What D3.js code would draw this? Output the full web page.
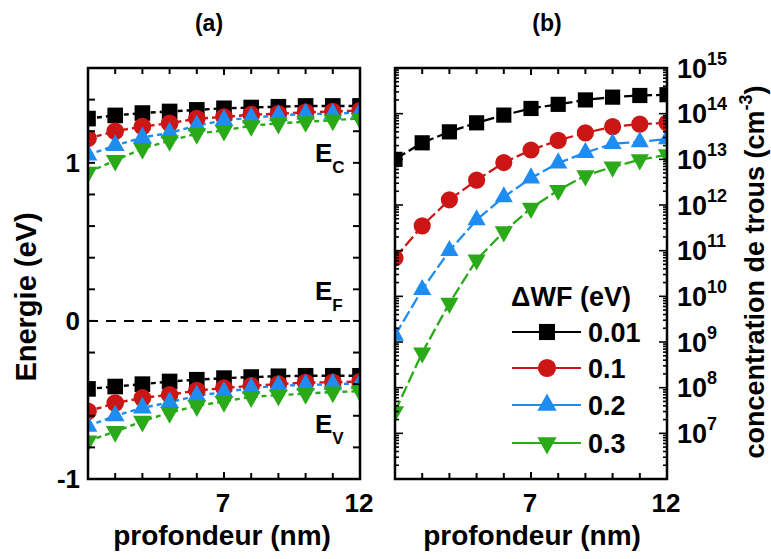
<!DOCTYPE html>
<html><head><meta charset="utf-8">
<script src="https://cdn.jsdelivr.net/npm/d3@7"></script>
<style>
body{margin:0;background:#fff}
svg{display:block}
text{font-family:"Liberation Sans",Arial,Helvetica,sans-serif;font-weight:bold;fill:#000}
</style>
</head><body>
<svg id="c" width="771" height="559"></svg>
<script>
// ---------------- data ----------------
const depth = [2,3,4,5,6,7,8,9,10,11,12];           // profondeur (nm)
const dwfLabels = ["0.01","0.1","0.2","0.3"];        // ΔWF (eV)

// panel (a): conduction band edge E_C (eV)
const ec001 = [1.28,1.30,1.315,1.325,1.335,1.345,1.35,1.355,1.36,1.36,1.36];
const ec01  = [1.155,1.20,1.23,1.25,1.28,1.29,1.305,1.31,1.32,1.325,1.33];
const ec02  = [1.05,1.11,1.16,1.19,1.235,1.27,1.285,1.30,1.31,1.31,1.32];
const ec03  = [0.94,1.015,1.09,1.14,1.185,1.205,1.235,1.25,1.26,1.27,1.28];
// panel (a): valence band edge E_V (eV)
const ev001 = [-0.43,-0.415,-0.40,-0.383,-0.372,-0.362,-0.355,-0.35,-0.347,-0.347,-0.347];
const ev01  = [-0.572,-0.52,-0.487,-0.467,-0.44,-0.425,-0.41,-0.40,-0.39,-0.388,-0.383];
const ev02  = [-0.666,-0.60,-0.55,-0.515,-0.473,-0.45,-0.425,-0.41,-0.405,-0.40,-0.395];
const ev03  = [-0.76,-0.70,-0.635,-0.58,-0.537,-0.51,-0.48,-0.47,-0.46,-0.45,-0.445];
// panel (b): hole concentration (cm^-3)
const p001 = [1.0e13,2.3e13,4.0e13,6.3e13,9.3e13,1.3e14,1.6e14,2.0e14,2.3e14,2.5e14,2.6e14];
const p01  = [6.9e10,3.5e11,1.3e12,3.5e12,8.5e12,1.6e13,2.6e13,3.8e13,5.2e13,5.9e13,6.3e13];
const p02  = [1.4e9,1.4e10,1.0e11,4.7e11,1.5e12,3.9e12,8.3e12,1.4e13,2.2e13,2.4e13,2.8e13];
const p03  = [3.0e7,5.8e8,7.1e9,6.3e10,2.6e11,8.5e11,2.1e12,4.4e12,6.8e12,9.8e12,1.26e13];

const yTicksA = [-1,0,1];
const xTickLabels = [7,12];
const logTickExps = [7,8,9,10,11,12,13,14,15];

// ---------------- styles ----------------
const colors = ["#000000","#cc1616","#1e8cf0","#2aaa18"];
const shapes = ["square","circle","up","down"];

const svg = d3.select("#c");

function markerPath(type, s){
  if(type==="square"){ const h=s*0.46; return `M${-h},${-h}H${h}V${h}H${-h}Z`; }
  if(type==="circle"){ return d3.symbol(d3.symbolCircle, Math.PI*(s*0.52)*(s*0.52))(); }
  const w=s*1.1, h=s*0.98;
  if(type==="up") return `M0,${-2*h/3}L${w/2},${h/3}L${-w/2},${h/3}Z`;
  return `M0,${2*h/3}L${w/2},${-h/3}L${-w/2},${-h/3}Z`;
}

// ---------------- panel geometry ----------------
const A = {x0:88, x1:360, y0:68, y1:479};
const B = {x0:395, x1:667, y0:68, y1:479};

const xA = d3.scaleLinear().domain([2,12]).range([A.x0,A.x1]);
const yA = d3.scaleLinear().domain([-1,1.6]).range([A.y1,A.y0]);
const xB = d3.scaleLinear().domain([2,12]).range([B.x0,B.x1]);
const yB = d3.scaleLog().domain([1e6,1e15]).range([B.y1,B.y0]);

const defs = svg.append("defs");
defs.append("clipPath").attr("id","clipA").append("rect")
  .attr("x",A.x0).attr("y",A.y0).attr("width",A.x1-A.x0).attr("height",A.y1-A.y0);
defs.append("clipPath").attr("id","clipB").append("rect")
  .attr("x",B.x0).attr("y",B.y0).attr("width",B.x1-B.x0).attr("height",B.y1-B.y0);

// ---------- panel (a) ----------
const gA = svg.append("g").attr("clip-path","url(#clipA)");
// Fermi level
gA.append("line").attr("x1",A.x0).attr("x2",A.x1).attr("y1",yA(0)).attr("y2",yA(0))
  .attr("stroke","#000").attr("stroke-width",2).attr("stroke-dasharray","10,8");

const seriesA = [[ec001,ev001],[ec01,ev01],[ec02,ev02],[ec03,ev03]];
const lineA = d3.line().x((d,i)=>xA(depth[i])).y(d=>yA(d));
seriesA.forEach((pair,k)=>{
  pair.forEach(vals=>{
    gA.append("path").attr("d",lineA(vals)).attr("fill","none")
      .attr("stroke",colors[k]).attr("stroke-width",2.4).attr("stroke-dasharray","5,4");
  });
});
seriesA.forEach((pair,k)=>{
  pair.forEach(vals=>{
    gA.selectAll(null).data(vals).enter().append("path")
      .attr("transform",(d,i)=>`translate(${xA(depth[i])},${yA(d)})`)
      .attr("d",markerPath(shapes[k],17)).attr("fill",colors[k]);
  });
});

// ---------- panel (b) ----------
const gB = svg.append("g").attr("clip-path","url(#clipB)");
const seriesB = [p001,p01,p02,p03];
const lineB = d3.line().x((d,i)=>xB(depth[i])).y(d=>yB(d));
seriesB.forEach((vals,k)=>{
  gB.append("path").attr("d",lineB(vals)).attr("fill","none")
    .attr("stroke",colors[k]).attr("stroke-width",2.3).attr("stroke-dasharray","12,4");
});
seriesB.forEach((vals,k)=>{
  gB.selectAll(null).data(vals).enter().append("path")
    .attr("transform",(d,i)=>`translate(${xB(depth[i])},${yB(d)})`)
    .attr("d",markerPath(shapes[k],16.5)).attr("fill",colors[k]);
});

// ---------- frames & ticks ----------
function frame(P){
  svg.append("rect").attr("x",P.x0).attr("y",P.y0).attr("width",P.x1-P.x0).attr("height",P.y1-P.y0)
    .attr("fill","none").attr("stroke","#000").attr("stroke-width",2.5);
}
function tick(x1,y1,x2,y2,w){
  svg.append("line").attr("x1",x1).attr("y1",y1).attr("x2",x2).attr("y2",y2)
    .attr("stroke","#000").attr("stroke-width",w||2);
}
frame(A); frame(B);

// x ticks (both panels), every 1 nm, top & bottom
[[A,xA],[B,xB]].forEach(([P,xs])=>{
  xs.ticks(10).forEach(v=>{
    const len = (v===7||v===12||v===2)?7:6;
    tick(xs(v),P.y1,xs(v),P.y1-len);
    tick(xs(v),P.y0,xs(v),P.y0+len);
  });
});
// y ticks panel (a), every 0.2
d3.range(-1,1.61,0.2).forEach(v=>{
  const y=yA(v);
  tick(A.x0,y,A.x0+7,y); tick(A.x1,y,A.x1-7,y);
});
// y ticks panel (b), log major+minor
d3.range(6,15).forEach(e=>{
  for(let m=1;m<10;m++){
    const y=yB(m*Math.pow(10,e));
    const len = m===1?8:4;
    tick(B.x0,y,B.x0+len,y,1.6); tick(B.x1,y,B.x1-len,y,1.6);
  }
});
tick(B.x0,yB(1e15),B.x0+8,yB(1e15),1.6);

// ---------- tick labels ----------
yTicksA.forEach(v=>{
  svg.append("text").attr("x",80).attr("y",yA(v)+9).attr("text-anchor","end")
    .attr("font-size",26).text(v===-1?"-1":String(v));
});
[[A,xA],[B,xB]].forEach(([P,xs])=>{
  xTickLabels.forEach(v=>{
    svg.append("text").attr("x",xs(v)-1).attr("y",512).attr("text-anchor","middle")
      .attr("font-size",26).text(v);
  });
});
logTickExps.forEach(e=>{
  const y=yB(Math.pow(10,e));
  const t=svg.append("text").attr("x",677).attr("y",y+9.5).attr("font-size",27);
  t.append("tspan").text("10");
  t.append("tspan").attr("dy",-13).attr("font-size",18).text(e);
});

// ---------- titles ----------
svg.append("text").attr("x",209).attr("y",31).attr("text-anchor","middle").attr("font-size",23).text("(a)");
svg.append("text").attr("x",547).attr("y",31).attr("text-anchor","middle").attr("font-size",23).text("(b)");

svg.append("text").attr("transform","translate(36,297) rotate(-90)").attr("text-anchor","middle")
  .attr("font-size",29).text("Energie (eV)");
svg.append("text").attr("x",222).attr("y",545).attr("text-anchor","middle").attr("font-size",28).text("profondeur (nm)");
svg.append("text").attr("x",532).attr("y",545).attr("text-anchor","middle").attr("font-size",28).text("profondeur (nm)");

const rt = svg.append("text").attr("transform","translate(764,272) rotate(-90)").attr("text-anchor","middle")
  .attr("font-size",27);
rt.append("tspan").text("concentration de trous (cm");
rt.append("tspan").attr("dy",-12).attr("font-size",18).text("-3");
rt.append("tspan").attr("dy",12).text(")");

// band labels
function bandLabel(sub,x,y){
  const t=svg.append("text").attr("x",x).attr("y",y).attr("font-size",26);
  t.append("tspan").text("E");
  t.append("tspan").attr("dy",11).attr("font-size",17).text(sub);
}
bandLabel("C",315,162);
bandLabel("F",315,300);
bandLabel("V",315,433);

// ---------- legend ----------
svg.append("text").attr("x",511).attr("y",306).attr("font-size",27).text("\u0394WF (eV)");
const legY = [332,368,405,443];
dwfLabels.forEach((lab,k)=>{
  const y=legY[k];
  svg.append("line").attr("x1",512).attr("x2",581).attr("y1",y).attr("y2",y)
    .attr("stroke",colors[k]).attr("stroke-width",2.2);
  svg.append("path").attr("transform",`translate(547,${y})`).attr("d",markerPath(shapes[k],17.5)).attr("fill",colors[k]);
  svg.append("text").attr("x",588).attr("y",y+10).attr("font-size",27).text(lab);
});
</script>
</body></html>
